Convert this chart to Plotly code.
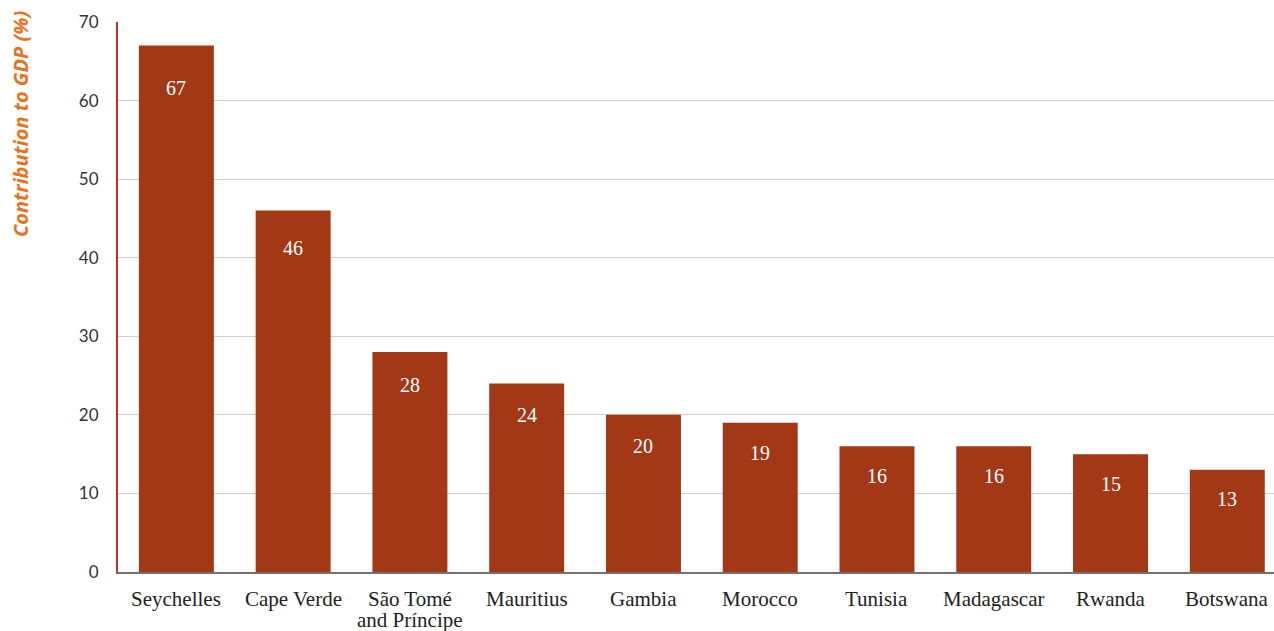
import plotly.graph_objects as go

countries = ["Seychelles", "Cape Verde", "São Tomé<br>and Príncipe", "Mauritius", "Gambia",
             "Morocco", "Tunisia", "Madagascar", "Rwanda", "Botswana"]
gdp_share = [67, 46, 28, 24, 20, 19, 16, 16, 15, 13]
y_ticks = [0, 10, 20, 30, 40, 50, 60, 70]

BAR = "#a33816"

fig = go.Figure()
fig.add_trace(go.Bar(
    x=list(range(len(countries))),
    y=gdp_share,
    width=0.642,
    marker=dict(color=BAR, line=dict(width=0)),
    hoverinfo="skip",
))

# value labels sitting inside the top of each bar
for i, v in enumerate(gdp_share):
    fig.add_annotation(
        x=i, y=v, xref="x", yref="y",
        text=str(v), showarrow=False,
        yshift=-(26 + 0.24 * v),
        font=dict(family="Liberation Serif", size=20, color="white"),
    )

# category names under the axis, with tight line spacing for wrapped names
for i, name in enumerate(countries):
    for k, line in enumerate(name.split("<br>")):
        fig.add_annotation(
            x=i, y=0, xref="x", yref="y",
            text=line, showarrow=False,
            yanchor="middle", yshift=-(27 + 21 * k),
            font=dict(family="Liberation Serif", size=21, color="#222"),
        )

fig.add_annotation(
    x=-97 / 1156, y=(572 - 124) / 550, xref="paper", yref="paper",
    text="Contribution to GDP (%)", textangle=-90, showarrow=False,
    xanchor="center", yanchor="middle",
    font=dict(family="Open Sans", size=20, color="#e8731e", style="italic", weight=700),
)

fig.update_layout(
    width=1274, height=631,
    margin=dict(l=118, r=0, t=22, b=59, autoexpand=False),
    paper_bgcolor="white", plot_bgcolor="white",
    showlegend=False,
    bargap=0.36,
)
fig.update_xaxes(
    range=[-0.5, 9.4],
    tickmode="array", tickvals=list(range(len(countries))),
    showticklabels=False, ticks="",
    showline=True, linecolor="#77706c", linewidth=2,
    showgrid=False, zeroline=False, automargin=False,
)
fig.update_yaxes(
    range=[0, 70],
    tickmode="array", tickvals=y_ticks, ticktext=[str(t) for t in y_ticks],
    tickfont=dict(family="Lato", size=17, color="#333"),
    ticks="outside", ticklen=14, tickcolor="rgba(0,0,0,0)",
    showline=True, linecolor="#c0302b", linewidth=2,
    showgrid=True, gridcolor="#d6cdca", gridwidth=1,
    zeroline=False, automargin=False,
)

fig.write_html("out.html")
